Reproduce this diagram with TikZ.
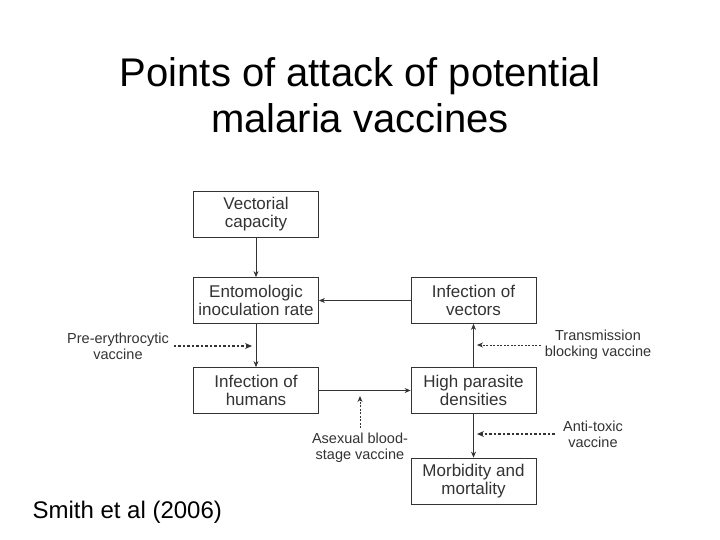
\documentclass[tikz,border=0pt]{standalone}
\usepackage{fontspec}
\setmainfont{Liberation Sans}
\usetikzlibrary{arrows.meta}
\begin{document}
\begin{tikzpicture}[x=1pt,y=-1pt,
  box/.style={draw=black!80,line width=0.8pt,minimum width=125pt,minimum height=46pt,align=center,font=\fontsize{17}{18}\selectfont,text=black!80,inner sep=1pt},
  lbl/.style={align=center,font=\fontsize{14.5}{16}\selectfont,text=black!80,inner sep=0pt},
  arr/.style={-{Stealth[length=6pt,width=5pt]},draw=black!80,line width=0.7pt},
  dotarr/.style={-{Stealth[length=7pt,width=6pt]},draw=black!80,line width=1.6pt,dash pattern=on 2.5pt off 2pt},
  dasharr/.style={-{Stealth[length=6pt,width=5pt]},draw=black!80,line width=0.9pt,dash pattern=on 2pt off 1.5pt}]
\useasboundingbox (0,0) rectangle (720,540);
\fill[white] (0,0) rectangle (720,540);
\node[font=\fontsize{40}{46}\selectfont,align=center] (title) at (360,95) {Points of attack of potential\\malaria vaccines};
\node[font=\fontsize{24}{28}\selectfont,anchor=west] (cite) at (29,512) {Smith et al (2006)};
\node[box] (vc) at (256,214) {Vectorial\\capacity};
\node[box] (eir) at (256,300.5) {Entomologic\\inoculation rate};
\node[box] (iv) at (473.5,300.5) {Infection of\\vectors};
\node[box] (ih) at (256,390.5) {Infection of\\humans};
\node[box] (hp) at (473.5,390.5) {High parasite\\densities};
\node[box] (mm) at (473.5,481) {Morbidity and\\mortality};
\draw[arr] (vc) -- (eir);
\draw[arr] (eir) -- (ih);
\draw[arr] (iv) -- (eir);
\draw[arr] (ih) -- (hp);
\draw[arr] (hp) -- (iv);
\draw[arr] (hp) -- (mm);
\node[lbl] (pe) at (118,346) {Pre-erythrocytic\\vaccine};
\node[lbl] (tb) at (598,345) {Transmission\\blocking vaccine};
\node[lbl] (at) at (593,434) {Anti-toxic\\vaccine};
\node[lbl] (as) at (360,448) {Asexual blood-\\stage vaccine};
\coordinate (pe1) at (252,346);
\coordinate (tb1) at (477,345);
\coordinate (at1) at (477,434);
\coordinate (as1) at (360,396);
\draw[dotarr] (pe.east)++(5,0) -- (pe1);
\draw[dasharr] (tb.west)++(-4,0) -- (tb1);
\draw[dotarr] (at.west)++(-8,0) -- (at1);
\draw[dasharr] (as.north)++(0,-5) -- (as1);
\end{tikzpicture}
\end{document}
